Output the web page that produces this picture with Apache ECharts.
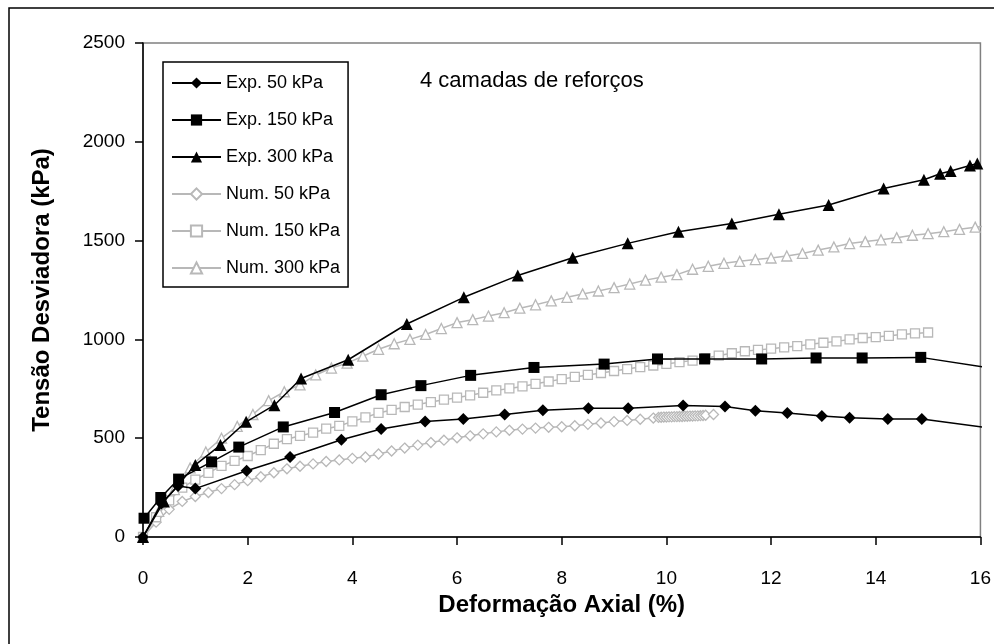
<!DOCTYPE html>
<html><head><meta charset="utf-8">
<script src="https://cdn.jsdelivr.net/npm/echarts@6/dist/echarts.min.js"></script>
<style>html,body{margin:0;padding:0;background:#fff}#c{width:994px;height:644px}</style>
</head><body><div id="c"></div>
<script>
// ---- data (Deformação Axial %, Tensão Desviadora kPa) ----
const seriesNames = ['Exp. 50 kPa','Exp. 150 kPa','Exp. 300 kPa','Num. 50 kPa','Num. 150 kPa','Num. 300 kPa'];
const annotation = '4 camadas de reforços';
const xTitle = 'Deformação Axial (%)';
const yTitle = 'Tensão Desviadora (kPa)';

const exp50 = [[0,0],[0.35,170],[0.67,258],[1.0,245],[1.98,335],[2.81,405],[3.79,492],[4.55,547],[5.39,585],[6.12,597],[6.91,620],[7.64,642],[8.51,652],[9.27,652],[10.32,665],[11.12,661],[11.70,639],[12.31,628],[12.97,612],[13.50,603],[14.23,597],[14.88,597],[16.5,540]];
const exp150 = [[0.02,95],[0.34,200],[0.68,293],[1.31,380],[1.83,455],[2.68,557],[3.66,630],[4.55,720],[5.31,766],[6.26,818],[7.47,858],[8.81,875],[9.83,901],[10.73,901],[11.82,901],[12.86,906],[13.74,906],[14.86,909],[16.5,843]];
const exp300 = [[0,0],[0.4,180],[1.0,365],[1.48,465],[1.97,583],[2.51,667],[3.02,802],[3.92,897],[5.04,1078],[6.13,1213],[7.16,1323],[8.21,1413],[9.26,1486],[10.23,1545],[11.25,1587],[12.15,1633],[13.10,1680],[14.15,1764],[14.92,1808],[15.23,1838],[15.43,1852],[15.80,1880],[15.94,1890]];

const num50 = [[0,0],[0.25,75],[0.5,140],[0.75,180],[1.0,205],[1.25,225],[1.5,245],[1.75,265],[2.0,285],[2.25,305],[2.5,325],[2.75,345],[3.0,358],[3.25,370],[3.5,382],[3.75,390],[4.0,398],[4.25,405],[4.5,420],[4.75,435],[5.0,450],[5.25,465],[5.5,478],[5.75,490],[6.0,502],[6.25,512],[6.5,522],[6.75,532],[7.0,540],[7.25,546],[7.5,551],[7.75,555],[8.0,558],[8.25,563],[8.5,570],[8.75,577],[9.0,584],[9.25,590],[9.5,596],[9.75,602],[9.85,605],[9.9,606],[9.95,607],[10.0,607],[10.05,608],[10.1,608],[10.15,609],[10.2,609],[10.25,610],[10.3,610],[10.35,611],[10.4,611],[10.45,612],[10.5,612],[10.55,613],[10.6,613],[10.65,614],[10.7,615],[10.75,616],[10.9,620]];
const num150 = [[0,0],[0.25,100],[0.5,185],[0.75,250],[1.0,290],[1.25,325],[1.5,360],[1.75,385],[2.0,410],[2.25,440],[2.5,472],[2.75,495],[3.0,512],[3.25,528],[3.5,548],[3.75,562],[4.0,585],[4.25,605],[4.5,628],[4.75,643],[5.0,658],[5.25,670],[5.5,683],[5.75,695],[6.0,705],[6.25,717],[6.5,730],[6.75,742],[7.0,752],[7.25,762],[7.5,775],[7.75,787],[8.0,799],[8.25,810],[8.5,820],[8.75,830],[9.0,840],[9.25,850],[9.5,860],[9.75,868],[10.0,876],[10.25,885],[10.5,893],[10.75,905],[11.0,918],[11.25,930],[11.5,940],[11.75,947],[12.0,953],[12.25,960],[12.5,966],[12.75,975],[13.0,983],[13.25,990],[13.5,1000],[13.75,1007],[14.0,1012],[14.25,1018],[14.5,1025],[14.75,1030],[15.0,1035]];
const num300 = [[0,0],[0.3,130],[0.6,240],[0.9,350],[1.2,430],[1.5,500],[1.8,560],[2.1,620],[2.4,690],[2.7,735],[3.0,770],[3.3,820],[3.6,855],[3.9,880],[4.2,915],[4.5,950],[4.8,978],[5.1,1000],[5.4,1025],[5.7,1055],[6.0,1085],[6.3,1100],[6.6,1118],[6.9,1135],[7.2,1158],[7.5,1175],[7.8,1195],[8.1,1213],[8.4,1230],[8.7,1245],[9.0,1262],[9.3,1280],[9.6,1300],[9.9,1315],[10.2,1328],[10.5,1355],[10.8,1370],[11.1,1385],[11.4,1395],[11.7,1404],[12.0,1412],[12.3,1422],[12.6,1435],[12.9,1452],[13.2,1468],[13.5,1485],[13.8,1495],[14.1,1504],[14.4,1515],[14.7,1527],[15.0,1535],[15.3,1545],[15.6,1557],[15.9,1568],[16.2,1575]];

const FONT = '"Liberation Sans", Arial, sans-serif';
const GRAY = '#b8b8b8';

function expSeries(name, data, symbol, size) {
  return { name, type:'line', data, symbol, symbolSize:size, clip:true,
    lineStyle:{color:'#000', width:1.5}, itemStyle:{color:'#000', borderWidth:0}, z:3, animation:false };
}
function numSeries(name, data, symbol, size) {
  return { name, type:'line', data, symbol, symbolSize:size, clip:true, showAllSymbol:true,
    lineStyle:{color:GRAY, width:1.5}, itemStyle:{color:'#fff', borderColor:GRAY, borderWidth:1.3}, z:2, animation:false };
}

const chart = echarts.init(document.getElementById('c'), null, {renderer:'canvas'});
chart.setOption({
  backgroundColor:'#fff',
  animation:false,
  textStyle:{fontFamily:FONT},
  grid:{left:143, top:43, right:10, bottom:107, show:true, borderColor:'#808080', borderWidth:1.5, backgroundColor:'transparent'},
  graphic:[
    {type:'rect', shape:{x:9, y:8, width:1000, height:700}, style:{fill:'none', stroke:'#000', lineWidth:1.5}, silent:true},
    {type:'text', left:420, top:70, style:{text:annotation, font:'22px '+FONT, fill:'#000'}}
  ],
  xAxis:{type:'value', min:0, max:16, interval:2,
    name:xTitle, nameLocation:'middle', nameGap:52,
    nameTextStyle:{fontFamily:FONT, fontSize:24, fontWeight:'bold', color:'#000'},
    axisLine:{lineStyle:{color:'#000', width:1.5}}, axisTick:{inside:false, length:8, lineStyle:{color:'#000', width:1.5}},
    axisLabel:{margin:32, fontSize:19, color:'#000', fontFamily:FONT}, splitLine:{show:false}},
  yAxis:{type:'value', min:0, max:2500, interval:500,
    name:yTitle, nameLocation:'middle', nameGap:89,
    nameTextStyle:{fontFamily:FONT, fontSize:24, fontWeight:'bold', color:'#000'},
    axisLine:{show:true, lineStyle:{color:'#000', width:1.5}}, axisTick:{show:true, length:8, lineStyle:{color:'#000', width:1.5}},
    axisLabel:{margin:18, fontSize:19, color:'#000', fontFamily:FONT, formatter:v => String(v)}, splitLine:{show:false}},
  legend:{orient:'vertical', left:163, top:62, data:seriesNames,
    backgroundColor:'#fff', borderColor:'#000', borderWidth:1.5, padding:[12,8,10,8],
    itemWidth:49, itemHeight:14, itemGap:19,
    textStyle:{fontSize:18, color:'#000', fontFamily:FONT}},
  series:[
    numSeries(seriesNames[3], num50, 'diamond', 10),
    numSeries(seriesNames[4], num150, 'rect', 9),
    numSeries(seriesNames[5], num300, 'triangle', 10),
    expSeries(seriesNames[0], exp50, 'diamond', 12),
    expSeries(seriesNames[1], exp150, 'rect', 11),
    expSeries(seriesNames[2], exp300, 'triangle', 12)
  ]
});
</script></body></html>
